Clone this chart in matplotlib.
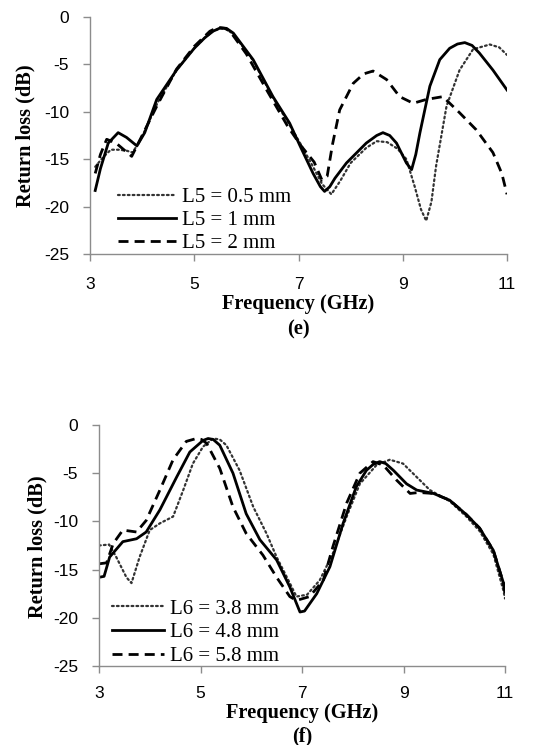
import matplotlib.pyplot as plt

plt.rcParams['axes.unicode_minus'] = False

# panel (e): L5 sweep
f_l5_05 = [3.1, 3.25, 3.4, 3.55, 3.7, 3.82, 4.0, 4.3, 4.66, 5.0, 5.2, 5.36, 5.5, 5.62, 5.75, 6.13, 6.51, 6.83, 7.03, 7.28, 7.45, 7.63, 7.8, 8.0, 8.3, 8.5, 8.7, 8.9, 9.07, 9.23, 9.35, 9.45, 9.55, 9.64, 9.84, 10.09, 10.35, 10.67, 10.85, 11.0]
rl_l5_05 = [-15.8, -14.8, -14.0, -14.0, -14.1, -14.3, -12.6, -9.0, -5.6, -3.3, -2.2, -1.5, -1.2, -1.3, -1.8, -4.6, -8.5, -11.4, -13.3, -15.8, -17.6, -18.7, -17.3, -15.4, -13.8, -13.1, -13.2, -13.9, -15.0, -17.9, -20.3, -21.5, -19.5, -15.7, -9.4, -5.6, -3.4, -2.9, -3.2, -4.0]
f_l5_1 = [3.1, 3.2, 3.35, 3.54, 3.7, 3.9, 4.05, 4.28, 4.66, 5.0, 5.2, 5.36, 5.5, 5.62, 5.75, 6.13, 6.51, 6.83, 7.03, 7.28, 7.42, 7.5, 7.6, 7.7, 7.92, 8.3, 8.5, 8.62, 8.75, 8.88, 9.07, 9.17, 9.25, 9.33, 9.52, 9.71, 9.9, 10.05, 10.19, 10.33, 10.47, 10.73, 11.0]
rl_l5_1 = [-18.3, -16.0, -13.3, -12.2, -12.7, -13.6, -12.2, -8.7, -5.6, -3.3, -2.2, -1.5, -1.15, -1.2, -1.7, -4.5, -8.4, -11.2, -13.6, -16.5, -17.9, -18.4, -17.9, -17.0, -15.4, -13.3, -12.5, -12.2, -12.5, -13.3, -15.4, -16.1, -14.5, -12.2, -7.3, -4.5, -3.3, -2.85, -2.7, -3.0, -3.8, -5.6, -7.7]
f_l5_2 = [3.1, 3.2, 3.32, 3.5, 3.65, 3.8, 4.0, 4.3, 4.66, 5.0, 5.3, 5.45, 5.6, 5.7, 6.0, 6.4, 6.8, 7.05, 7.3, 7.45, 7.55, 7.65, 7.79, 8.05, 8.25, 8.43, 8.69, 8.94, 9.2, 9.45, 9.77, 10.09, 10.41, 10.73, 10.9, 11.0]
rl_l5_2 = [-16.5, -14.5, -12.9, -13.3, -14.0, -14.7, -12.5, -9.2, -5.5, -3.1, -1.5, -1.1, -1.2, -1.6, -3.9, -7.8, -11.6, -13.6, -15.3, -17.2, -16.8, -13.5, -9.8, -7.0, -6.0, -5.7, -6.6, -8.4, -9.1, -8.7, -8.4, -10.1, -11.9, -14.3, -16.5, -18.7]

# panel (f): L6 sweep
f_l6_38 = [3.0, 3.2, 3.34, 3.54, 3.64, 3.8, 4.0, 4.2, 4.46, 4.66, 4.85, 5.05, 5.25, 5.38, 5.51, 5.77, 6.04, 6.3, 6.5, 6.76, 6.89, 7.1, 7.35, 7.61, 7.88, 8.14, 8.47, 8.73, 8.99, 9.26, 9.52, 9.91, 10.24, 10.5, 10.77, 10.97, 11.0]
rl_l6_38 = [-12.5, -12.4, -13.7, -15.8, -16.4, -13.7, -10.9, -10.2, -9.5, -6.75, -4.0, -2.25, -1.4, -1.5, -2.1, -4.7, -8.5, -11.25, -13.7, -16.4, -17.8, -17.6, -16.1, -13.3, -9.5, -6.1, -4.15, -3.6, -4.0, -5.4, -6.75, -7.9, -9.5, -11.0, -13.4, -17.2, -18.0]
f_l6_48 = [3.0, 3.1, 3.21, 3.47, 3.74, 3.93, 4.2, 4.53, 4.79, 5.05, 5.15, 5.25, 5.38, 5.64, 5.9, 6.17, 6.5, 6.76, 6.96, 7.05, 7.29, 7.55, 7.81, 8.07, 8.27, 8.4, 8.53, 8.65, 8.8, 9.06, 9.26, 9.59, 9.91, 10.24, 10.5, 10.77, 10.97, 11.0]
rl_l6_48 = [-15.8, -15.7, -13.7, -12.1, -11.8, -11.1, -8.8, -5.4, -2.8, -1.6, -1.4, -1.5, -2.1, -5.0, -9.2, -11.9, -14.0, -16.8, -19.4, -19.3, -17.5, -14.7, -10.2, -6.4, -4.7, -4.1, -3.8, -4.0, -4.7, -6.1, -6.75, -7.1, -7.8, -9.3, -10.7, -13.0, -16.4, -17.3]
f_l6_58 = [3.0, 3.15, 3.28, 3.47, 3.74, 3.93, 4.2, 4.46, 4.72, 4.92, 5.02, 5.12, 5.38, 5.64, 5.9, 6.23, 6.5, 6.76, 6.89, 7.15, 7.42, 7.61, 7.88, 8.14, 8.4, 8.6, 8.86, 9.13, 9.3, 9.59, 9.91, 10.24, 10.5, 10.77, 10.97, 11.0]
rl_l6_58 = [-14.4, -14.3, -12.3, -10.9, -11.1, -9.9, -6.75, -3.6, -1.7, -1.4, -1.5, -1.9, -4.5, -8.5, -11.25, -13.5, -15.8, -17.8, -18.2, -17.8, -16.1, -12.6, -8.1, -5.0, -3.8, -4.15, -5.7, -7.1, -7.0, -7.1, -7.8, -9.3, -10.7, -13.0, -16.4, -17.4]

xticks = [3, 5, 7, 9, 11]
yticks = [0, -5, -10, -15, -20, -25]

SERIF = "Liberation Serif"
SANS = "Liberation Sans"
GRAY = "#8c8c8c"

fig = plt.figure(figsize=(5.36, 7.45), dpi=100)
W, H = 536, 745


def px_axes(l, t, r, b):
    return fig.add_axes([l / W, 1 - b / H, (r - l) / W, (b - t) / H])


def style(ax, xpad):
    ax.set_xlim(3, 11)
    ax.set_ylim(-25, 0)
    ax.set_xticks(xticks)
    ax.set_yticks(yticks)
    for s in ["top", "right"]:
        ax.spines[s].set_visible(False)
    for s in ["left", "bottom"]:
        ax.spines[s].set_color(GRAY)
        ax.spines[s].set_linewidth(1.0)
    ax.tick_params(direction="out", length=5, color=GRAY, width=1.0,
                   labelsize=12.5)
    ax.tick_params(axis="y", pad=10)
    ax.tick_params(axis="x", pad=xpad)
    for lab in ax.get_xticklabels() + ax.get_yticklabels():
        lab.set_fontfamily(SANS)


lw = 2.0
dot = (0, (0.8, 1.4))
dash = (0, (3.6, 2.2))
leg_kw = dict(loc="lower left", frameon=False, prop={"family": SERIF, "size": 15},
              handletextpad=0.3, borderpad=0, borderaxespad=0)

ax1 = px_axes(90, 17, 507, 254)
ax1.plot(f_l5_05, rl_l5_05, color="#333333", lw=1.6, ls=dot, dash_capstyle="round", label="L5 = 0.5 mm")
ax1.plot(f_l5_1, rl_l5_1, color="black", lw=lw, label="L5 = 1 mm")
ax1.plot(f_l5_2, rl_l5_2, color="black", lw=lw, ls=dash, label="L5 = 2 mm")
style(ax1, 11.5)
ax1.legend(bbox_to_anchor=(0.066, 0.005), handlelength=2.8, labelspacing=0.15, **leg_kw)

ax2 = px_axes(99, 425, 505, 666)
ax2.plot(f_l6_38, rl_l6_38, color="#333333", lw=1.6, ls=dot, dash_capstyle="round", label="L6 = 3.8 mm")
ax2.plot(f_l6_48, rl_l6_48, color="black", lw=lw, label="L6 = 4.8 mm")
ax2.plot(f_l6_58, rl_l6_58, color="black", lw=lw, ls=dash, label="L6 = 5.8 mm")
style(ax2, 9.5)
ax2.legend(bbox_to_anchor=(0.032, 0.0), handlelength=2.5, labelspacing=0.2, **leg_kw)

bold = {"family": SERIF, "weight": "bold", "size": 14.7}
fig.text(298 / W, 1 - 304 / H, "Frequency (GHz)", ha="center", va="center", **bold)
fig.text(298 / W, 1 - 329 / H, "(e)", ha="center", va="center", **bold)
fig.text(25 / W, 1 - 136 / H, "Return loss (dB)", rotation=90, ha="center", va="center", **bold)
fig.text(302 / W, 1 - 713 / H, "Frequency (GHz)", ha="center", va="center", **bold)
fig.text(302 / W, 1 - 736 / H, "(f)", ha="center", va="center", **bold)
fig.text(37 / W, 1 - 547 / H, "Return loss (dB)", rotation=90, ha="center", va="center", **bold)

fig.savefig("out.png", dpi=100)
